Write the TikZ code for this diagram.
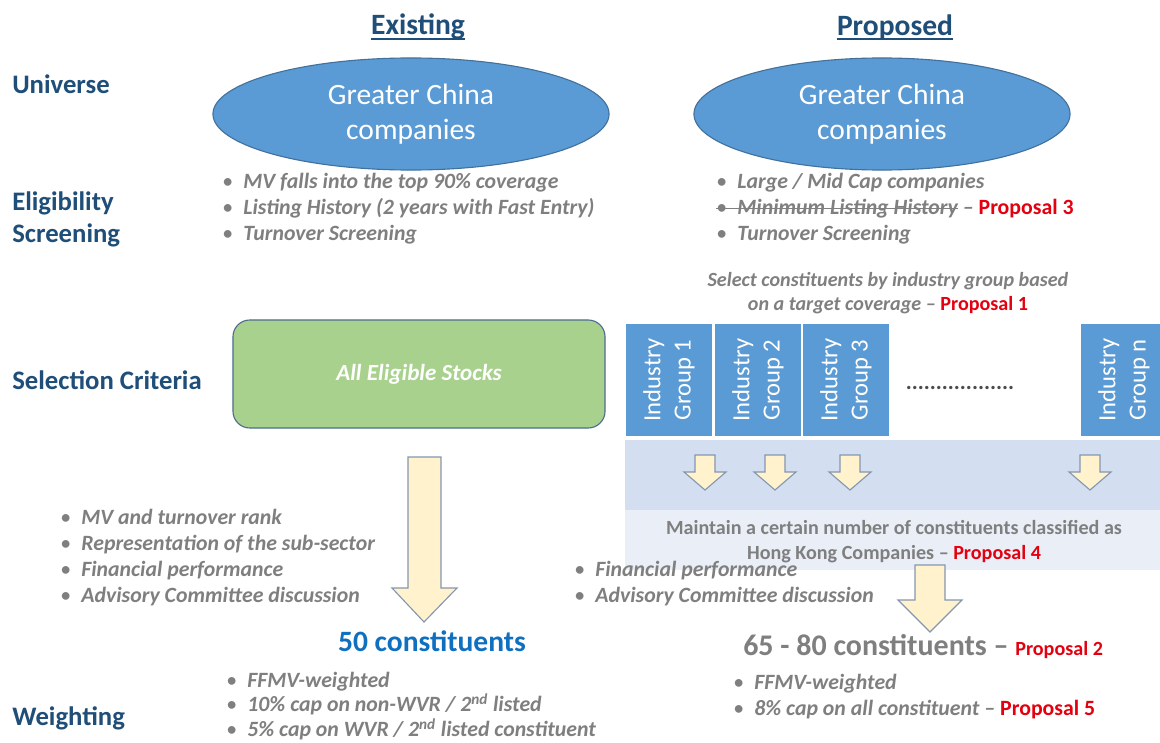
\documentclass[tikz,border=0pt]{standalone}
\usepackage{fontspec}
\setmainfont{Carlito}
\usepackage{xcolor}
\usepackage{tikz}
\usetikzlibrary{positioning,shapes.geometric}

\definecolor{headblue}{HTML}{1F4E79}
\definecolor{ellblue}{HTML}{5B9BD5}
\definecolor{ellline}{HTML}{41719C}
\definecolor{greytxt}{HTML}{7F7F7F}
\definecolor{propred}{HTML}{E3000F}
\definecolor{boxgreen}{HTML}{A9D18E}
\definecolor{boxline}{HTML}{4E6E8E}
\definecolor{arrowyel}{HTML}{FFF2CC}
\definecolor{arrowline}{HTML}{8497B0}
\definecolor{bandone}{HTML}{D3DEF0}
\definecolor{bandtwo}{HTML}{E9EEF7}
\definecolor{conblue}{HTML}{1070C0}

\newcommand{\bitem}{\makebox[15pt][l]{\mdseries\upshape\textbullet}}
\newcommand{\prop}[1]{\textcolor{propred}{\upshape\bfseries #1}}
\newsavebox{\strikebox}
\newcommand{\strike}[1]{\sbox{\strikebox}{#1}\rlap{\raisebox{.28em}{\rule{\wd\strikebox}{.8pt}}}\usebox{\strikebox}}

\begin{document}
\begin{tikzpicture}[
  x=0.025cm, y=-0.025cm,
  colhead/.style={inner sep=0pt, font=\fontsize{21}{25}\selectfont\bfseries, text=headblue},
  uline/.style={draw=headblue, line width=1.4pt},
  rowlbl/.style={anchor=west, align=left, inner sep=0pt, font=\fontsize{19}{22.8}\selectfont\bfseries, text=headblue},
  univ/.style={ellipse, draw=ellline, fill=ellblue, line width=0.8pt, minimum height=2.8cm, align=center, text=white, font=\fontsize{21}{25}\selectfont},
  blist/.style={anchor=west, align=left, inner sep=0pt, text=greytxt, font=\fontsize{15.5}{18.5}\selectfont\bfseries\itshape},
  note/.style={align=center, inner sep=0pt, text=greytxt, font=\fontsize{14.3}{17.6}\selectfont\bfseries},
  allbox/.style={draw=boxline, fill=boxgreen, rounded corners=12pt, line width=0.8pt, minimum width=9.3cm, minimum height=2.7cm, text=white, font=\fontsize{16.4}{19}\selectfont\bfseries\itshape},
  igroup/.style={fill=ellblue, draw=white, line width=1pt, rotate=90, minimum width=2.85cm, minimum height=2.2cm, align=center, text=white, font=\fontsize{17.5}{21.5}\selectfont},
  arrowbox/.style={fill=arrowyel, draw=arrowline, line width=0.8pt}
]
\useasboundingbox[fill=white] (0,0) rectangle (1160,743);

\node[colhead] (exist) at (418,27) {Existing};
\node[colhead] (propo) at (895,27) {Proposed};
\draw[uline] ([yshift=-3pt]exist.base west) -- ([yshift=-3pt]exist.base east);
\draw[uline] ([yshift=-3pt]propo.base west) -- ([yshift=-3pt]propo.base east);

\node[rowlbl] (universe) at (12,84) {Universe};
\node[rowlbl] (elig) at (12,219) {Eligibility\\Screening};
\node[rowlbl] (selcrit) at (12,380) {Selection Criteria};
\node[rowlbl] (weight) at (12,718) {Weighting};

\node[univ, minimum width=9.9cm] (gcold) at (411,114) {Greater China\\companies};
\node[univ, minimum width=9.4cm] (gcnew) at (882,114) {Greater China\\companies};

\node[blist] (eligold) at (222,209) {\bitem MV falls into the top 90\% coverage\\
  \bitem Listing History (2 years with Fast Entry)\\
  \bitem Turnover Screening};
\node[blist] (elignew) at (716,209) {\bitem Large / Mid Cap companies\\
  \strike{\bitem Minimum Listing History} -- \prop{Proposal 3}\\
  \bitem Turnover Screening};

\node[note, font=\fontsize{14.3}{17}\selectfont\bfseries\itshape] (target) at (888,293) {Select constituents by industry group based\\on a target coverage -- \prop{Proposal 1}};

\node[allbox] (allelig) at (419,374) {All Eligible Stocks};

\fill[bandone] (625,440) rectangle (1160,510);
\fill[bandtwo] (625,510) rectangle (1160,570);

\node[igroup] (ig1) at (669,380) {Industry\\Group 1};
\node[igroup] (ig2) at (758,380) {Industry\\Group 2};
\node[igroup] (ig3) at (846,380) {Industry\\Group 3};
\node[igroup] (ign) at (1124,380) {Industry\\Group n};
\node[font=\fontsize{16}{19}\selectfont\bfseries, text=black!70] (dots) at (960,388) {..................};

\draw[arrowbox] (695,455) -- (715,455) -- (715,472) -- (726,472) -- (705,490) -- (684,472) -- (695,472) -- cycle;
\draw[arrowbox] (765,455) -- (785,455) -- (785,472) -- (796,472) -- (775,490) -- (754,472) -- (765,472) -- cycle;
\draw[arrowbox] (840,455) -- (860,455) -- (860,472) -- (871,472) -- (850,490) -- (829,472) -- (840,472) -- cycle;
\draw[arrowbox] (1080,455) -- (1100,455) -- (1100,472) -- (1111,472) -- (1090,490) -- (1069,472) -- (1080,472) -- cycle;

\node[note] (hkco) at (894,542) {Maintain a certain number of constituents classified as\\Hong Kong Companies -- \prop{Proposal 4}};

\draw[arrowbox] (408,457) -- (441,457) -- (441,588) -- (457,588) -- (424,622) -- (392,588) -- (408,588) -- cycle;
\draw[arrowbox] (915,565) -- (945,565) -- (945,600) -- (962,600) -- (930,632) -- (898,600) -- (915,600) -- cycle;

\node[blist] (selold) at (60,558) {\bitem MV and turnover rank\\
  \bitem Representation of the sub-sector\\
  \bitem Financial performance\\
  \bitem Advisory Committee discussion};
\node[blist] (selnew) at (574,584) {\bitem Financial performance\\
  \bitem Advisory Committee discussion};

\node[font=\fontsize{21}{25}\selectfont\bfseries, text=conblue] (fifty) at (432,641) {50 constituents};
\node[anchor=west, inner sep=0pt, text=greytxt, font=\fontsize{21.3}{24}\selectfont\bfseries] (range) at (743,647) {65 - 80 constituents -- {\fontsize{14.3}{16}\selectfont\prop{Proposal 2}}};

\node[blist, font=\fontsize{15.5}{17.6}\selectfont\bfseries\itshape] (wgtold) at (226,706) {\bitem FFMV-weighted\\
  \bitem 10\% cap on non-WVR / 2\textsuperscript{nd} listed\\
  \bitem 5\% cap on WVR / 2\textsuperscript{nd} listed constituent};
\node[blist] (wgtnew) at (733,697) {\bitem FFMV-weighted\\
  \bitem 8\% cap on all constituent -- \prop{Proposal 5}};
\end{tikzpicture}
\end{document}
